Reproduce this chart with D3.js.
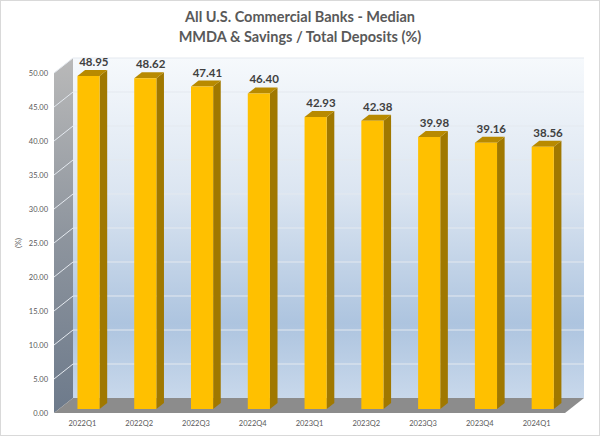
<!DOCTYPE html>
<html>
<head>
<meta charset="utf-8">
<script src="https://cdn.jsdelivr.net/npm/d3@7"></script>
<style>
  body { margin: 0; background: #fff; }
  svg { display: block; font-family: Lato, "Open Sans", sans-serif; }
</style>
</head>
<body>
<div id="chart"></div>
<script>
'use strict';

// data
const quarters = ['2022Q1', '2022Q2', '2022Q3', '2022Q4', '2023Q1', '2023Q2', '2023Q3', '2023Q4', '2024Q1'];
const ratios   = [48.95, 48.62, 47.41, 46.40, 42.93, 42.38, 39.98, 39.16, 38.56];
const yTicks   = [0, 5, 10, 15, 20, 25, 30, 35, 40, 45, 50];
const titleLines = ['All U.S. Commercial Banks - Median', 'MMDA & Savings / Total Deposits (%)'];

const W = 600, H = 436;
const depth = { dx: 19, dy: -15 };   // wall depth vector
const barFront = 0.27, barBack = 0.67;

const svg = d3.select('#chart').append('svg')
    .attr('width', W)
    .attr('height', H);

const defs = svg.append('defs');

let wallGrad = defs.append('linearGradient')
    .attr('id', 'wallGrad').attr('x1', 0).attr('y1', 0).attr('x2', 0).attr('y2', 1);
wallGrad.append('stop').attr('offset', '0%').attr('stop-color', '#f6f9fc');
wallGrad.append('stop').attr('offset', '40%').attr('stop-color', '#dbe5f1');
wallGrad.append('stop').attr('offset', '78%').attr('stop-color', '#adc4df');
wallGrad.append('stop').attr('offset', '100%').attr('stop-color', '#c8d8eb');

let sideGrad = defs.append('linearGradient')
    .attr('id', 'sideGrad').attr('x1', 0).attr('y1', 0).attr('x2', 0).attr('y2', 1);
sideGrad.append('stop').attr('offset', '0%').attr('stop-color', '#b9b9b9');
sideGrad.append('stop').attr('offset', '50%').attr('stop-color', '#8e959e');
sideGrad.append('stop').attr('offset', '100%').attr('stop-color', '#6d7a8b');

// scales on the front plane
const x = d3.scaleBand().domain(quarters).range([54, 565]);
const y = d3.scaleLinear().domain([0, 50]).range([413, 73]);

const proj = (px, py, d) => [px + depth.dx * d, py + depth.dy * d];
const poly = pts => pts.map(p => p.join(',')).join(' ');

// outer border
svg.append('rect')
    .attr('x', 0.5).attr('y', 0.5)
    .attr('width', W - 1).attr('height', H - 1)
    .attr('fill', '#fff')
    .attr('stroke', '#d9d9d9');

// title
svg.append('text')
    .attr('x', W / 2)
    .attr('text-anchor', 'middle')
    .style('font-size', '14.5px')
    .style('font-weight', 'bold')
    .style('fill', '#595959')
    .selectAll('tspan')
    .data(titleLines)
    .enter()
    .append('tspan')
    .attr('x', W / 2)
    .attr('y', (d, i) => 22 + i * 20)
    .text(d => d);

const [x0, x1] = x.range();
const [yb, yt] = [y(0), y(50)];

// back wall
let bw = [proj(x0, yt, 1), proj(x1, yt, 1), proj(x1, yb, 1), proj(x0, yb, 1)];
svg.append('polygon').attr('points', poly(bw)).attr('fill', 'url(#wallGrad)');

// side wall
let sw = [proj(x0, yt, 0), proj(x0, yt, 1), proj(x0, yb, 1), proj(x0, yb, 0)];
svg.append('polygon').attr('points', poly(sw)).attr('fill', 'url(#sideGrad)');

// floor
let fl = [proj(x0, yb, 0), proj(x0, yb, 1), proj(x1, yb, 1), proj(x1, yb, 0)];
svg.append('polygon').attr('points', poly(fl)).attr('fill', '#8c8c8c');

// gridlines
let grid = svg.append('g');
yTicks.filter(t => t > 0).forEach(t =>
{
    let a = proj(x0, y(t), 0), b = proj(x0, y(t), 1), c = proj(x1, y(t), 1);
    grid.append('polyline')
        .attr('points', poly([a, b, c]))
        .attr('fill', 'none')
        .attr('stroke', '#e4e9ef')
        .attr('stroke-width', 1);
});

// y axis
let yAxis = svg.append('g')
    .attr('transform', 'translate(52,0)')
    .call(d3.axisLeft(y).tickValues(yTicks).tickFormat(d3.format('.2f')).tickSize(0).tickPadding(4));
yAxis.select('.domain').remove();
yAxis.selectAll('text')
    .style('font-size', '7.5px')
    .style('font-family', 'Lato, sans-serif')
    .style('fill', '#595959');

svg.append('text')
    .attr('transform', 'translate(21,243) rotate(-90)')
    .attr('text-anchor', 'middle')
    .style('font-size', '7.5px')
    .style('fill', '#595959')
    .text('(%)');

// x axis
let xAxis = svg.append('g')
    .attr('transform', 'translate(0,' + yb + ')')
    .call(d3.axisBottom(x).tickSize(0).tickPadding(8));
xAxis.select('.domain').remove();
xAxis.selectAll('text')
    .style('font-size', '7.5px')
    .style('font-family', 'Lato, sans-serif')
    .style('fill', '#595959');

// bars
const bw2 = x.bandwidth() * 0.39;
let bars = svg.append('g');
quarters.forEach((q, i) =>
{
    let v = ratios[i];
    let cx = x(q) + x.bandwidth() / 2 + 1;
    let l = cx - bw2 / 2, r = cx + bw2 / 2;
    let t = y(v), b = y(0);

    let f = [proj(l, t, barFront), proj(r, t, barFront), proj(r, b, barFront), proj(l, b, barFront)];
    let s = [proj(r, t, barFront), proj(r, t, barBack), proj(r, b, barBack), proj(r, b, barFront)];
    let tp = [proj(l, t, barFront), proj(l, t, barBack), proj(r, t, barBack), proj(r, t, barFront)];

    bars.append('polygon').attr('points', poly(s)).attr('fill', '#a07800');
    bars.append('polygon').attr('points', poly(tp)).attr('fill', '#b88a00');
    bars.append('polygon').attr('points', poly(f)).attr('fill', '#ffc000');

    let lp = proj(cx, t, 0.55);
    bars.append('text')
        .attr('x', lp[0])
        .attr('y', proj(cx, t, barFront)[1] - 10)
        .attr('text-anchor', 'middle')
        .style('font-size', '11.5px')
        .style('font-weight', 'bold')
        .style('fill', '#404040')
        .text(v.toFixed(2));
});
</script>
</body>
</html>
